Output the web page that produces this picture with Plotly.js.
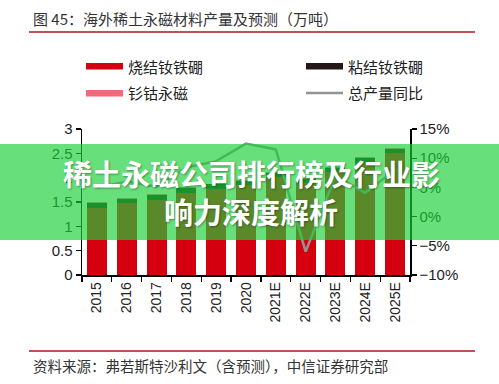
<!DOCTYPE html>
<html>
<head>
<meta charset="utf-8">
<script src="https://cdn.plot.ly/plotly-3.0.1.min.js"></script>
<style>
html,body{margin:0;padding:0;background:#fff;}
#chart{width:499px;height:384px;}
</style>
</head>
<body>
<div id="chart"></div>
<script>
// ---- data (万吨, %) ----
var years = ["2015","2016","2017","2018","2019","2020","2021E","2022E","2023E","2024E","2025E"];
var sintered = [1.38, 1.47, 1.55, 1.69, 1.77, 1.84, 2.01, 1.89, 2.11, 2.31, 2.50];
var bonded   = [0.09, 0.09, 0.09, 0.09, 0.09, 0.09, 0.09, 0.09, 0.09, 0.09, 0.09];
var smco     = [0.02, 0.02, 0.02, 0.02, 0.02, 0.02, 0.02, 0.02, 0.02, 0.02, 0.02];
var growth   = [5.0, 6.0, 5.1, 8.4, 9.5, 12.5, 11.5, -6.0, 7.0, 4.1, 8.0];
var seriesNames = ["烧结钕铁硼", "粘结钕铁硼", "钐钴永磁", "总产量同比"];
var titleText = "图 45：海外稀土永磁材料产量及预测（万吨）";
var sourceText = "资料来源：弗若斯特沙利文（含预测），中信证券研究部";
var bannerLines = ["稀土永磁公司排行榜及行业影", "响力深度解析"];

// ---- layout geometry ----
var W = 499, H = 384;
var L = 82, R = 410, T = 129, B = 275;
function px(x){ return (x - L) / (R - L); }
function py(y){ return (B - y) / (B - T); }

var FONT = "Arial, 'Liberation Sans', 'Noto Sans CJK SC', sans-serif";
var CJK = "'Noto Sans CJK SC', 'Noto Sans', sans-serif";
var colRed = "#d5000f", colBlack = "#231815", colPink = "#f06a7c", colGrey = "#939393";

var traces = [
  {type:"bar", name:seriesNames[0], x:years, y:sintered, marker:{color:colRed}, showlegend:false, hoverinfo:"skip"},
  {type:"bar", name:seriesNames[1], x:years, y:bonded, marker:{color:colBlack}, showlegend:false, hoverinfo:"skip"},
  {type:"bar", name:seriesNames[2], x:years, y:smco, marker:{color:colPink}, showlegend:false, hoverinfo:"skip"},
  {type:"scatter", mode:"lines", name:seriesNames[3], x:years, y:growth, yaxis:"y2",
   line:{color:colGrey, width:2.5}, showlegend:false, hoverinfo:"skip"}
];

var shapes = [
  {type:"line", xref:"paper", yref:"paper", x0:px(29), x1:px(475), y0:py(32), y1:py(32), line:{color:"#b3141c", width:1.6}},
  {type:"line", xref:"paper", yref:"paper", x0:px(29), x1:px(475), y0:py(351), y1:py(351), line:{color:"#b3141c", width:1.6}},
  {type:"rect", xref:"paper", yref:"paper", x0:px(86), x1:px(123), y0:py(63), y1:py(69.5), fillcolor:colRed, line:{width:0}},
  {type:"rect", xref:"paper", yref:"paper", x0:px(306), x1:px(343), y0:py(63), y1:py(69.5), fillcolor:colBlack, line:{width:0}},
  {type:"rect", xref:"paper", yref:"paper", x0:px(86), x1:px(123), y0:py(90), y1:py(96.5), fillcolor:colPink, line:{width:0}},
  {type:"line", xref:"paper", yref:"paper", x0:px(306), x1:px(343), y0:py(93), y1:py(93), line:{color:colGrey, width:2.5}},
  {type:"rect", xref:"paper", yref:"paper", layer:"above", x0:px(0), x1:px(W), y0:py(144), y1:py(240),
   fillcolor:"rgba(24,208,54,0.66)", line:{width:0}}
];

var legendFont = {family:CJK, size:15, color:"#222"};
var annotations = [
  {text:titleText, xref:"paper", yref:"paper", x:px(31), y:py(18), xanchor:"left", yanchor:"middle", showarrow:false,
   font:{family:CJK, size:15, color:"#333"}},
  {text:sourceText, xref:"paper", yref:"paper", x:px(31), y:py(365), xanchor:"left", yanchor:"middle", showarrow:false,
   font:{family:CJK, size:14.5, color:"#333"}},
  {text:seriesNames[0], xref:"paper", yref:"paper", x:px(126), y:py(66), xanchor:"left", yanchor:"middle", showarrow:false, font:legendFont},
  {text:seriesNames[1], xref:"paper", yref:"paper", x:px(346), y:py(66), xanchor:"left", yanchor:"middle", showarrow:false, font:legendFont},
  {text:seriesNames[2], xref:"paper", yref:"paper", x:px(126), y:py(93), xanchor:"left", yanchor:"middle", showarrow:false, font:legendFont},
  {text:seriesNames[3], xref:"paper", yref:"paper", x:px(346), y:py(93), xanchor:"left", yanchor:"middle", showarrow:false, font:legendFont},
  {text:bannerLines[0], xref:"paper", yref:"paper", x:px(251), y:py(173), xanchor:"center", yanchor:"middle", showarrow:false,
   font:{family:CJK, size:29, color:"#ffffff", weight:700, shadow:"1px 1px 2px rgba(0,0,0,0.35)"}},
  {text:bannerLines[1], xref:"paper", yref:"paper", x:px(251), y:py(211), xanchor:"center", yanchor:"middle", showarrow:false,
   font:{family:CJK, size:29, color:"#ffffff", weight:700, shadow:"1px 1px 2px rgba(0,0,0,0.35)"}}
];

var layout = {
  width:W, height:H,
  margin:{l:L, r:W-R, t:T, b:H-B, pad:0},
  paper_bgcolor:"#fff", plot_bgcolor:"#fff",
  barmode:"stack", bargap:0.33,
  showlegend:false,
  font:{family:FONT, size:14, color:"#222"},
  xaxis:{type:"category", tickangle:-90, showline:true, linecolor:"#000", linewidth:1.5,
         ticks:"outside", tickson:"boundaries", ticklen:5, tickcolor:"#000", tickwidth:1.2,
         showgrid:false, zeroline:false, tickfont:{family:FONT, size:14, color:"#222"}},
  yaxis:{range:[0,3], dtick:0.5, tick0:0, showline:true, linecolor:"#000", linewidth:1.5,
         ticks:"outside", ticklen:5, tickcolor:"#000", tickwidth:1.2, showgrid:false, zeroline:false,
         tickfont:{family:FONT, size:15, color:"#222"}},
  yaxis2:{range:[-10,15], dtick:5, tick0:0, ticksuffix:"%", overlaying:"y", side:"right",
          showline:true, linecolor:"#000", linewidth:1.5, ticks:"outside", ticklen:5, tickcolor:"#000", tickwidth:1.2,
          showgrid:false, zeroline:false, tickfont:{family:FONT, size:15, color:"#222"}},
  shapes:shapes,
  annotations:annotations
};

Plotly.newPlot("chart", traces, layout, {staticPlot:true, displayModeBar:false});
</script>
</body>
</html>
